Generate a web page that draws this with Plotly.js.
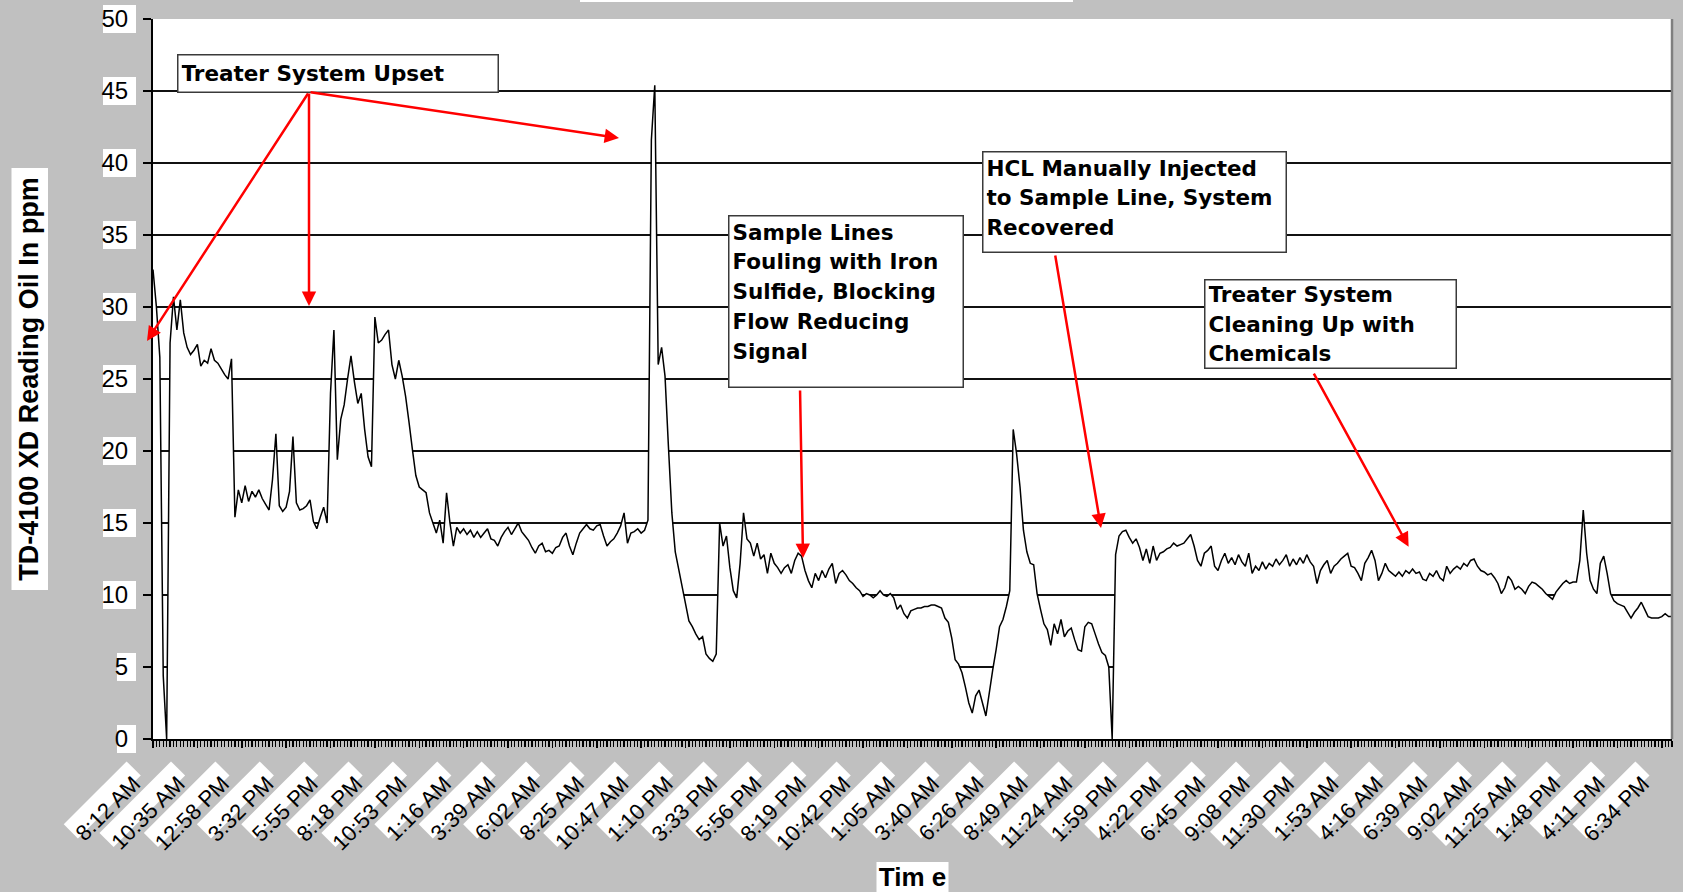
<!DOCTYPE html>
<html>
<head>
<meta charset="utf-8">
<script src="https://cdn.plot.ly/plotly-3.0.1.min.js"></script>
<style>
  html, body { margin: 0; padding: 0; background: #c0c0c0; }
  #chart { width: 1683px; height: 892px; }
</style>
</head>
<body>
<div id="chart"></div>
<script>
// ---------------- DATA ----------------
// Labelled ticks on the category axis (one label every 13 readings)
const tickLabels = [
  "8:12 AM", "10:35 AM", "12:58 PM", "3:32 PM", "5:55 PM", "8:18 PM", "10:53 PM",
  "1:16 AM", "3:39 AM", "6:02 AM", "8:25 AM", "10:47 AM", "1:10 PM", "3:33 PM",
  "5:56 PM", "8:19 PM", "10:42 PM", "1:05 AM", "3:40 AM", "6:26 AM", "8:49 AM",
  "11:24 AM", "1:59 PM", "4:22 PM", "6:45 PM", "9:08 PM", "11:30 PM", "1:53 AM",
  "4:16 AM", "6:39 AM", "9:02 AM", "11:25 AM", "1:48 PM", "4:11 PM", "6:34 PM"
];
const readingsPerLabel = 13;

// TD-4100 XD reading, oil in ppm (readings 0-99)
const oilPpmPart1 = [
  32.6, 30.0, 26.5, 4.4, 0.0, 27.5, 30.7, 28.4, 30.5, 28.2,
  27.2, 26.7, 27.0, 27.4, 25.9, 26.3, 26.1, 27.1, 26.3, 26.1,
  25.7, 25.3, 25.0, 26.4, 15.4, 17.3, 16.4, 17.6, 16.5, 17.2,
  16.8, 17.3, 16.7, 16.3, 15.9, 18.0, 21.2, 16.2, 15.8, 16.1,
  17.2, 21.0, 16.4, 15.9, 16.0, 16.2, 16.6, 15.1, 14.6, 15.4,
  16.1, 15.0, 24.0, 28.4, 19.4, 22.2, 23.2, 25.0, 26.6, 24.8,
  23.3, 24.0, 21.5, 19.6, 18.9, 29.3, 27.5, 27.7, 28.1, 28.4,
  26.0, 25.0, 26.3, 25.2, 23.8, 22.0, 20.1, 18.3, 17.5, 17.3,
  17.1, 15.7, 15.0, 14.3, 15.2, 13.6, 17.1, 15.0, 13.4, 14.7,
  14.3, 14.6, 14.2, 14.5, 14.0, 14.4, 14.0, 14.3, 14.6, 13.9
];
// readings 100-199
const oilPpmPart2 = [
  13.8, 13.4, 14.0, 14.4, 14.7, 14.2, 14.6, 15.0, 14.4, 14.1,
  13.8, 13.3, 12.9, 13.4, 13.6, 13.0, 13.1, 12.9, 13.3, 13.4,
  14.0, 14.3, 13.4, 12.8, 13.6, 14.3, 14.6, 14.9, 14.6, 14.5,
  14.8, 14.9, 14.1, 13.4, 13.7, 13.9, 14.3, 14.8, 15.7, 13.6,
  14.3, 14.4, 14.6, 14.3, 14.5, 15.2, 41.6, 45.4, 26.0, 27.2,
  25.2, 20.3, 15.7, 13.0, 11.8, 10.6, 9.4, 8.2, 7.8, 7.3,
  6.9, 7.1, 5.9, 5.6, 5.4, 5.9, 15.0, 13.4, 14.1, 11.9,
  10.3, 9.8, 12.2, 15.7, 13.9, 13.6, 12.7, 13.6, 12.5, 12.8,
  11.5, 12.9, 12.2, 11.9, 11.5, 11.9, 12.1, 11.5, 12.4, 12.9,
  12.7, 11.7, 11.0, 10.5, 11.5, 11.0, 11.7, 11.2, 11.8, 12.2
];
// readings 200-299
const oilPpmPart3 = [
  10.8, 11.5, 11.7, 11.4, 11.0, 10.8, 10.5, 10.3, 9.9, 10.1,
  10.0, 9.8, 10.0, 10.3, 10.0, 9.9, 10.1, 9.8, 9.0, 9.3,
  8.7, 8.4, 8.9, 9.0, 9.1, 9.1, 9.2, 9.2, 9.3, 9.3,
  9.2, 9.1, 8.4, 8.1, 7.0, 5.5, 5.2, 4.6, 3.6, 2.5,
  1.8, 3.0, 3.4, 2.5, 1.6, 3.2, 4.8, 6.2, 7.8, 8.3,
  9.2, 10.3, 21.5, 19.8, 17.5, 14.5, 13.0, 12.2, 12.1, 10.1,
  9.0, 8.0, 7.6, 6.5, 8.0, 7.3, 8.3, 7.1, 7.5, 7.7,
  6.9, 6.2, 6.1, 7.8, 8.1, 8.0, 7.3, 6.6, 6.0, 5.8,
  5.0, 0.0, 12.8, 14.1, 14.4, 14.5, 14.0, 13.6, 13.9, 13.3,
  12.4, 13.2, 12.2, 13.4, 12.4, 12.9, 13.0, 13.2, 13.3, 13.6
];
// readings 300-399
const oilPpmPart4 = [
  13.4, 13.5, 13.6, 13.9, 14.2, 13.4, 12.4, 12.0, 12.9, 13.1,
  13.4, 12.0, 11.7, 12.4, 12.9, 12.2, 12.6, 12.1, 12.8, 12.3,
  12.0, 12.9, 11.5, 12.0, 11.7, 12.3, 11.8, 12.2, 12.0, 12.5,
  12.1, 12.4, 12.8, 12.0, 12.5, 12.1, 12.6, 12.2, 12.8, 12.3,
  12.0, 10.8, 11.7, 12.1, 12.4, 11.5, 12.0, 12.2, 12.5, 12.7,
  12.9, 12.0, 11.9, 11.5, 11.0, 12.2, 12.6, 13.1, 12.4, 11.0,
  11.5, 12.2, 11.7, 11.5, 11.3, 11.6, 11.3, 11.7, 11.5, 11.8,
  11.5, 11.6, 11.1, 11.0, 11.5, 11.3, 11.7, 11.2, 11.0, 12.0,
  11.5, 11.8, 12.0, 11.8, 12.2, 12.0, 12.4, 12.5, 12.0, 11.7,
  11.6, 11.4, 11.5, 11.2, 10.8, 10.1, 10.5, 11.3, 11.0, 10.4
];
// readings 400-445
const oilPpmPart5 = [
  10.6, 10.4, 10.1, 10.6, 10.9, 10.8, 10.6, 10.4, 10.1, 9.9,
  9.7, 10.2, 10.5, 10.8, 11.0, 10.8, 10.9, 10.9, 12.4, 15.9,
  12.9, 11.0, 10.4, 10.1, 12.2, 12.7, 11.5, 10.1, 9.6, 9.4,
  9.3, 9.2, 8.8, 8.4, 8.8, 9.1, 9.5, 9.0, 8.5, 8.4,
  8.4, 8.4, 8.5, 8.7, 8.5, 8.5
];

const readings = [].concat(oilPpmPart1, oilPpmPart2, oilPpmPart3, oilPpmPart4, oilPpmPart5);
const readingIndex = readings.map((_, i) => i);
const tickPositions = tickLabels.map((_, k) => k * readingsPerLabel);
const yTickValues = [0, 5, 10, 15, 20, 25, 30, 35, 40, 45, 50];

// ---------------- LAYOUT / STYLE ----------------
const FONT = '"Liberation Sans", Arial, sans-serif';
const NOTE_FONT = '"DejaVu Sans", Verdana, sans-serif';
const W = 1683, H = 892;
const M = { l: 153, r: 11, t: 19, b: 153 };
const PW = W - M.l - M.r, PH = H - M.t - M.b;
const xMax = readings.length - 1;
const yMax = 50;

// pixel -> paper helpers for the decorative white label backgrounds
const pX = px => (px - M.l) / PW;
const pY = py => (H - M.b - py) / PH;
const rectShape = (x0, y0, x1, y1) => ({
  type: 'rect', xref: 'paper', yref: 'paper',
  x0: pX(x0), x1: pX(x1), y0: pY(y0), y1: pY(y1),
  fillcolor: 'white', line: { width: 0 }, layer: 'below'
});

const ctx = document.createElement('canvas').getContext('2d');
ctx.font = '22px "Liberation Sans"';
const r2 = Math.SQRT1_2;
const axisY = H - M.b;
const xLabelBoxes = tickLabels.map((lab, k) => {
  const tx = M.l + tickPositions[k] / xMax * PW;
  const L = ctx.measureText(lab).width + 7;
  const ex = tx - 19.3, ey = axisY + 29.5, h = 10;   // end-edge midpoint (screen px)
  const nx = -h * r2, ny = -h * r2;                   // perpendicular (up-left)
  const sx = ex - L * r2, sy = ey + L * r2;           // start-edge midpoint
  const pts = [[ex + nx, ey + ny], [ex - nx, ey - ny], [sx - nx, sy - ny], [sx + nx, sy + ny]];
  return {
    type: 'path', xref: 'paper', yref: 'paper',
    path: 'M' + pts.map(p => pX(p[0]).toFixed(5) + ',' + pY(p[1]).toFixed(5)).join('L') + 'Z',
    fillcolor: 'white', line: { width: 0 }, layer: 'below'
  };
});
const yLabelBoxes = yTickValues.map(v => {
  const cy = axisY - v / yMax * PH;
  return rectShape(v >= 10 ? 103 : 117, cy - 14, 136, cy + 14);
});
const otherBoxes = [
  rectShape(11.5, 168, 48, 590),      // y title background
  rectShape(876.5, 862, 948.5, 900),  // x title background
  rectShape(580, -4, 1073, 2),        // clipped chart-title box at very top
  { type: 'line', xref: 'paper', yref: 'paper', x0: 1, x1: 1, y0: 0, y1: 1,
    line: { color: '#7f7f7f', width: 2.5 }, layer: 'above' }
];

const noteText = lines => lines.map(s => '<span style="font-size:21.5px">' + s + '</span>').join('<br>');
const boxStyle = {
  showarrow: false, xanchor: 'left', yanchor: 'top', align: 'left',
  bgcolor: 'white', bordercolor: '#3a3a3a', borderwidth: 1.5, borderpad: 3,
  font: { family: NOTE_FONT, size: 23, color: 'black', weight: 700 }
};
const arrowStyle = {
  text: '', showarrow: true, arrowhead: 2, arrowsize: 1.15, arrowwidth: 2.5,
  arrowcolor: '#ff0000', axref: 'pixel', ayref: 'pixel', standoff: 0
};

const annotations = [
  Object.assign({}, boxStyle, { x: 7.03, y: 47.57, text: noteText(['Treater System Upset']),
    width: 313, height: 30, valign: 'middle' }),
  Object.assign({}, boxStyle, { x: 168.45, y: 36.39,
    text: noteText(['Sample Lines', 'Fouling with Iron', 'Sulfide, Blocking', 'Flow Reducing', 'Signal']),
    width: 227, height: 164, valign: 'top' }),
  Object.assign({}, boxStyle, { x: 242.86, y: 40.83,
    text: noteText(['HCL Manually Injected', 'to Sample Line, System', 'Recovered']),
    width: 296, height: 93, valign: 'top' }),
  Object.assign({}, boxStyle, { x: 307.9, y: 31.94,
    text: noteText(['Treater System', 'Cleaning Up with', 'Chemicals']),
    width: 244, height: 81, valign: 'middle' }),
  Object.assign({}, arrowStyle, { xref: 'paper', yref: 'paper', x: -0.00395, y: 0.5528, ax: 162, ay: -249 }),
  Object.assign({}, arrowStyle, { xref: 'x', yref: 'y', x: 45.70, y: 30.07, ax: 0, ay: -214 }),
  Object.assign({}, arrowStyle, { xref: 'x', yref: 'y', x: 136.52, y: 41.74, ax: -310, ay: -46 }),
  Object.assign({}, arrowStyle, { xref: 'x', yref: 'y', x: 190.43, y: 12.57, ax: -3, ay: -169 }),
  Object.assign({}, arrowStyle, { xref: 'x', yref: 'y', x: 277.72, y: 14.65, ax: -46, ay: -274 }),
  Object.assign({}, arrowStyle, { xref: 'x', yref: 'y', x: 367.84, y: 13.35, ax: -95.6, ay: -174.7 })
];

const trace = {
  x: readingIndex, y: readings, type: 'scatter', mode: 'lines',
  fill: 'tozeroy', fillcolor: 'white',
  line: { color: 'black', width: 1.5, simplify: false },
  hoverinfo: 'skip', showlegend: false
};

const layout = {
  width: W, height: H,
  margin: { l: M.l, r: M.r, t: M.t, b: M.b, pad: 0 },
  paper_bgcolor: '#c0c0c0', plot_bgcolor: 'white',
  showlegend: false,
  font: { family: FONT, color: 'black' },
  xaxis: {
    type: 'linear', range: [0, xMax], fixedrange: true,
    showgrid: false, zeroline: false,
    showline: true, linecolor: 'black', linewidth: 2,
    tickmode: 'array', tickvals: tickPositions, ticktext: tickLabels,
    ticks: 'outside', ticklen: 7, tickwidth: 1.5, tickcolor: 'black',
    tickangle: -45, tickfont: { family: FONT, size: 22, color: 'black' },
    ticklabelshift: -19, ticklabelstandoff: 14,
    minor: { tickmode: 'linear', tick0: 0, dtick: 1, ticks: 'outside', ticklen: 6,
             tickwidth: 1.2, tickcolor: 'black', showgrid: false },
    title: { text: 'Tim e', standoff: 14,
             font: { family: FONT, size: 26, color: 'black', weight: 700 } },
    automargin: false
  },
  yaxis: {
    range: [0, yMax], fixedrange: true,
    tickmode: 'array', tickvals: yTickValues,
    showgrid: true, gridcolor: '#111111', gridwidth: 1.5,
    zeroline: false, showline: true, linecolor: 'black', linewidth: 2,
    ticks: 'outside', ticklen: 8, tickwidth: 1.5, tickcolor: 'black',
    tickfont: { family: FONT, size: 24, color: 'black' },
    ticklabelstandoff: 10,
    title: { text: 'TD-4100 XD Reading Oil In ppm', standoff: 55,
             font: { family: FONT, size: 27, color: 'black', weight: 700 } },
    automargin: false
  },
  shapes: [].concat(xLabelBoxes, yLabelBoxes, otherBoxes),
  annotations: annotations
};

Plotly.newPlot('chart', [trace], layout, { displayModeBar: false, staticPlot: true });
</script>
</body>
</html>
